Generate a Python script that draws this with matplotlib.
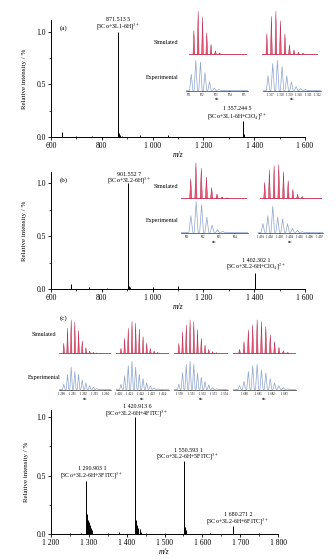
import numpy as np
import matplotlib.pyplot as plt
from matplotlib.ticker import FixedLocator, MultipleLocator

plt.rcParams['font.family'] = ['Liberation Serif', 'DejaVu Serif']
plt.rcParams['mathtext.fontset'] = 'stix'

# main spectra (m/z, relative intensity)
mz_a = [645, 700, 760, 862, 865, 868, 872, 878, 950, 1060, 1357, 1360]
int_a = [0.05, 0.01, 0.008, 1.0, 0.06, 0.04, 0.02, 0.012, 0.02, 0.02, 0.15, 0.03]
mz_b = [680, 750, 820, 902, 905, 908, 912, 1000, 1100, 1402, 1405]
int_b = [0.05, 0.015, 0.008, 1.0, 0.05, 0.03, 0.015, 0.02, 0.03, 0.15, 0.03]
mz_c = [1250, 1280, 1292, 1294, 1296, 1298, 1300, 1302, 1305, 1309, 1350, 1380,
        1422, 1424, 1427, 1430, 1434, 1438, 1450, 1500, 1552, 1555, 1558, 1620,
        1682, 1750]
int_c = [0.01, 0.01, 0.45, 0.17, 0.14, 0.12, 0.10, 0.08, 0.05, 0.03, 0.01, 0.02,
         1.0, 0.12, 0.08, 0.05, 0.04, 0.02, 0.01, 0.01, 0.62, 0.06, 0.03, 0.01,
         0.07, 0.01]

ticks_a = [600, 800, 1000, 1200, 1400, 1600]
labels_a = ['600', '800', '1 000', '1 200', '1 400', '1 600']
ticks_c = [1200, 1300, 1400, 1500, 1600, 1700, 1800]
labels_c = ['1 200', '1 300', '1 400', '1 500', '1 600', '1 700', '1 800']

# isotope patterns for the insets
pos_a1 = [871.18, 871.51, 871.85, 872.18, 872.51, 872.85, 873.18]
sim_a1 = [0.55, 1.0, 0.87, 0.5, 0.23, 0.08, 0.03]
exp_a1 = [0.55, 1.0, 0.95, 0.6, 0.3, 0.1, 0.05]
pos_a2 = [1356.74, 1357.24, 1357.74, 1358.24, 1358.74, 1359.24, 1359.74, 1360.24, 1360.74]
sim_a2 = [0.48, 0.88, 1.0, 0.78, 0.47, 0.22, 0.1, 0.04, 0.02]
exp_a2 = [0.5, 0.9, 1.0, 0.8, 0.5, 0.3, 0.15, 0.08, 0.05]
pos_b1 = [901.22, 901.55, 901.89, 902.22, 902.55, 902.89, 903.22, 903.55]
sim_b1 = [0.55, 1.0, 0.85, 0.6, 0.3, 0.12, 0.04, 0.01]
exp_b1 = [0.55, 1.0, 0.9, 0.5, 0.25, 0.1, 0.05, 0.02]
pos_b2 = [1401.3, 1401.8, 1402.3, 1402.8, 1403.3, 1403.8, 1404.3, 1404.8, 1405.3]
sim_b2 = [0.45, 0.8, 0.92, 0.95, 0.75, 0.5, 0.25, 0.12, 0.05]
exp_b2 = [0.3, 0.55, 0.85, 0.5, 0.45, 0.3, 0.15, 0.08, 0.04]
pos_c1 = [1290.23, 1290.57, 1290.9, 1291.23, 1291.57, 1291.9, 1292.23, 1292.57, 1292.9, 1293.23, 1293.57]
sim_c1 = [0.3, 0.75, 1.0, 0.93, 0.68, 0.37, 0.17, 0.07, 0.03, 0.01, 0.005]
exp_c1 = [0.2, 0.55, 0.8, 0.65, 0.55, 0.35, 0.25, 0.15, 0.1, 0.05, 0.03]
pos_c2 = [1420.25, 1420.58, 1420.91, 1421.25, 1421.58, 1421.91, 1422.25, 1422.58, 1422.91, 1423.25, 1423.58]
sim_c2 = [0.15, 0.45, 0.75, 0.95, 0.9, 0.72, 0.5, 0.3, 0.15, 0.07, 0.03]
exp_c2 = [0.2, 0.5, 0.85, 1.0, 0.8, 0.55, 0.4, 0.25, 0.15, 0.08, 0.04]
pos_c3 = [1549.93, 1550.26, 1550.59, 1550.93, 1551.26, 1551.59, 1551.93, 1552.26, 1552.59, 1552.93, 1553.26]
sim_c3 = [0.3, 0.65, 0.85, 1.0, 0.95, 0.7, 0.45, 0.25, 0.12, 0.05, 0.02]
exp_c3 = [0.2, 0.6, 0.9, 1.0, 0.9, 0.6, 0.45, 0.3, 0.18, 0.08, 0.04]
pos_c4 = [1679.6, 1679.94, 1680.27, 1680.6, 1680.94, 1681.27, 1681.6, 1681.94, 1682.27, 1682.6, 1682.94, 1683.27]
sim_c4 = [0.12, 0.35, 0.7, 0.85, 1.0, 0.95, 0.8, 0.55, 0.35, 0.18, 0.08, 0.03]
exp_c4 = [0.15, 0.3, 0.65, 0.85, 0.9, 0.7, 0.6, 0.4, 0.25, 0.15, 0.08, 0.04]

W, H = 336, 560
fig = plt.figure(figsize=(3.36, 5.6), dpi=100)


def box(l, t, r, b):
    return [l / W, 1 - b / H, (r - l) / W, (b - t) / H]


def txt(x, y, s, size=4.3, **kw):
    fig.text(x / W, 1 - y / H, s, fontsize=size, ha='center', va='center', **kw)


def spectrum(rect, mz, inten, xlim, ymax, ticks, labels, minor):
    ax = fig.add_axes(box(*rect))
    ax.vlines(mz, 0, inten, color='black', lw=0.7)
    ax.set_xlim(xlim)
    ax.set_ylim(0, ymax)
    ax.spines['top'].set_visible(False)
    ax.spines['right'].set_visible(False)
    ax.spines['left'].set_linewidth(0.7)
    ax.spines['bottom'].set_linewidth(0.7)
    ax.xaxis.set_major_locator(FixedLocator(ticks))
    ax.set_xticklabels(labels)
    ax.xaxis.set_minor_locator(MultipleLocator(minor))
    ax.set_yticks([0, 0.5, 1.0])
    ax.set_yticklabels(['0.0', '0.5', '1.0'])
    ax.yaxis.set_minor_locator(MultipleLocator(0.25))
    ax.tick_params(which='major', direction='out', length=2.5, width=0.6, labelsize=5.5, pad=1.2)
    ax.tick_params(which='minor', direction='out', length=1.5, width=0.5)
    ax.set_xlabel('m/z', fontsize=5.5, style='italic', labelpad=0.5)
    ax.set_ylabel('Relative intensity / %', fontsize=5)
    ax.yaxis.set_label_coords(-0.095, 0.5)
    return ax


def sim_inset(rect, pos, h, xlim, hw):
    ax = fig.add_axes(box(*rect))
    for p, v in zip(pos, h):
        ax.fill([p - hw, p, p + hw], [0, v, 0], fc='#ec5a78', ec='#b01840', lw=0.3)
    ax.axhline(0, color='#c8284a', lw=0.6)
    ax.set_xlim(xlim)
    ax.set_ylim(-0.02, 1.05)
    ax.axis('off')


def exp_inset(rect, pos, h, xlim, hw, ticks, labels):
    ax = fig.add_axes(box(*rect))
    xs = [xlim[0]]
    ys = [0.02]
    for p, v in zip(pos, h):
        xs += [p - hw, p, p + hw]
        ys += [0.02, v, 0.02]
    xs.append(xlim[1])
    ys.append(0.01)
    ax.plot(xs, ys, color='#8ea4cc', lw=0.5)
    ax.set_xlim(xlim)
    ax.set_ylim(0, 1.05)
    for s in ['top', 'right', 'left']:
        ax.spines[s].set_visible(False)
    ax.spines['bottom'].set_linewidth(0.4)
    ax.set_yticks([])
    ax.set_xticks(ticks)
    ax.set_xticklabels(labels)
    ax.tick_params(axis='x', length=1, width=0.3, labelsize=2.2, pad=0.5)
    ax.set_xlabel('m/z', fontsize=2.2, labelpad=0.3)


# panel (a)
spectrum((51, 20, 305, 137), mz_a, int_a, (600, 1600), 1.114, ticks_a, labels_a, 100)
txt(64, 28, '(a)', 5)
txt(118, 19.5, '871.513 5')
txt(118, 27, r'[3Co+3L1-6H]$^{3+}$')
txt(237, 109, '1 357.244 5')
txt(237, 117, r'[3Co+3L1-6H+ClO$_4$]$^{2+}$')
txt(166, 42, 'Simulated')
txt(162, 77, 'Experimental')
sim_inset((189, 9, 247, 55), pos_a1, sim_a1, (870.8, 875.3), 0.07)
sim_inset((262, 9, 318, 55), pos_a2, sim_a2, (1356.2, 1362.4), 0.1)
exp_inset((186, 59, 248, 91), pos_a1, exp_a1, (870.8, 875.3), 0.12,
          [871, 872, 873, 874, 875], ['871', '872', '873', '874', '875'])
exp_inset((263, 59, 321, 91), pos_a2, exp_a2, (1356.2, 1362.4), 0.18,
          [1357, 1358, 1359, 1360, 1361, 1362],
          ['1 357', '1 358', '1 359', '1 360', '1 361', '1 362'])

# panel (b)
spectrum((51, 172, 305, 289), mz_b, int_b, (600, 1600), 1.104, ticks_a, labels_a, 100)
txt(64, 180.5, '(b)', 5)
txt(129, 174, '901.552 7')
txt(129, 181, r'[3Co+3L2-6H]$^{3+}$')
txt(256, 260, '1 402.302 1')
txt(256, 267, r'[3Co+3L2-6H+ClO$_4$]$^{2+}$')
txt(166, 187, 'Simulated')
txt(162, 221, 'Experimental')
sim_inset((181, 161, 247, 199), pos_b1, sim_b1, (900.6, 904.8), 0.07)
sim_inset((260, 161, 322, 199), pos_b2, sim_b2, (1400.8, 1407.4), 0.1)
exp_inset((181, 200, 248, 233), pos_b1, exp_b1, (900.6, 904.8), 0.12,
          [901, 902, 903, 904], ['901', '902', '903', '904'])
exp_inset((258, 200, 323, 233), pos_b2, exp_b2, (1400.8, 1407.4), 0.18,
          [1401, 1402, 1403, 1404, 1405, 1406, 1407],
          ['1 401', '1 402', '1 403', '1 404', '1 405', '1 406', '1 407'])

# panel (c) isotope patterns
txt(64, 318, '(c)', 5)
txt(44, 335, 'Simulated')
txt(44, 377, 'Experimental')
c_sets = [
    ((59, 111), pos_c1, sim_c1, exp_c1, (1289.8, 1294.5), [1290, 1291, 1292, 1293, 1294]),
    ((116, 169), pos_c2, sim_c2, exp_c2, (1419.8, 1424.6), [1420, 1421, 1422, 1423, 1424]),
    ((174, 228), pos_c3, sim_c3, exp_c3, (1549.5, 1554.3), [1550, 1551, 1552, 1553, 1554]),
    ((233, 296), pos_c4, sim_c4, exp_c4, (1679.1, 1683.9), [1680, 1681, 1682, 1683]),
]
for (l, r), pos, sim, ex, xl, tk in c_sets:
    sim_inset((l, 318, r, 354), pos, sim, xl, 0.07)
    exp_inset((l, 360, r, 390), pos, ex, xl, 0.12, tk,
              ['1 %03d' % (t - 1000) for t in tk])

# bottom spectrum
spectrum((51, 410, 278, 534), mz_c, int_c, (1200, 1800), 1.06, ticks_c, labels_c, 50)
txt(137, 407, '1 420.913 6')
txt(137, 413.5, r'[3Co+3L2-6H+4FITC]$^{3+}$')
txt(188, 450, '1 550.593 1')
txt(188, 457, r'[3Co+3L2-6H+5FITC]$^{3+}$')
txt(92, 469, '1 290.903 1')
txt(92, 476, r'[3Co+3L2-6H+3FITC]$^{3+}$')
txt(238, 515, '1 680.271 2')
txt(238, 522, r'[3Co+3L2-6H+6FITC]$^{3+}$')

plt.savefig('out.png', dpi=100)
